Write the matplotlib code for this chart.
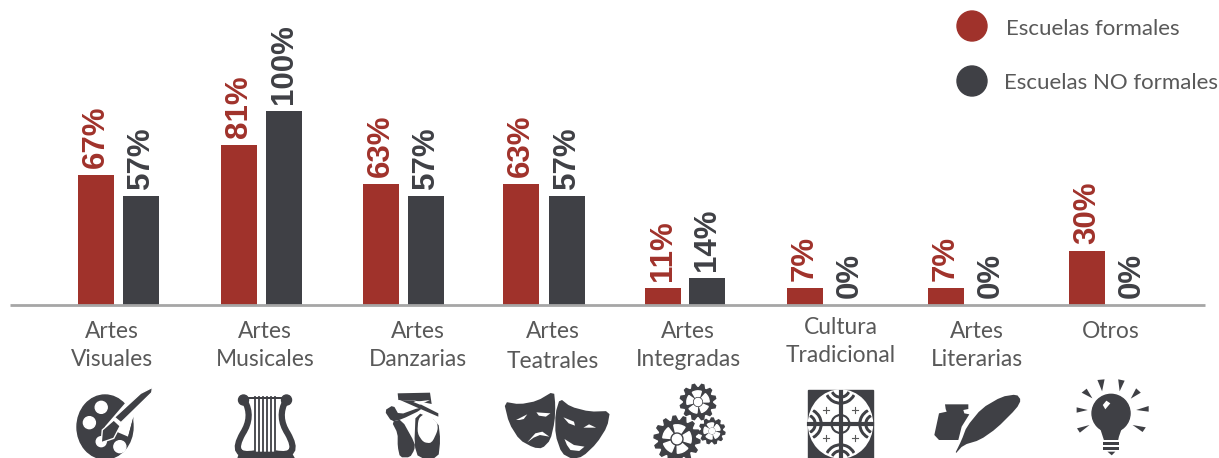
import numpy as np
import matplotlib
matplotlib.use("Agg")
import matplotlib.pyplot as plt
from matplotlib.patches import Polygon, Circle, Ellipse, Wedge, Rectangle, PathPatch
from matplotlib.path import Path

plt.rcParams['font.family'] = ['Lato', 'DejaVu Sans']

# === data ===
categories = ["Artes\nVisuales", "Artes\nMusicales", "Artes\nDanzarias", "Artes\nTeatrales",
              "Artes\nIntegradas", "Cultura\nTradicional", "Artes\nLiterarias", "Otros"]
formales = [67, 82.5, 62.5, 62.5, 9, 9, 9, 28]
no_formales = [56, 100, 56, 56, 14, 0, 0, 0]
formales_labels = ["67%", "81%", "63%", "63%", "11%", "7%", "7%", "30%"]
no_formales_labels = ["57%", "100%", "57%", "57%", "14%", "0%", "0%", "0%"]
legend_names = ["Escuelas formales", "Escuelas NO formales"]

RED = "#A0322B"
DARK = "#3F4045"
GREY = "#595959"

# the groups are not evenly spaced in the original
x_formales = [96, 239, 381, 521, 663, 805, 946, 1087]
x_no = [141, 284, 426, 567, 707, 850, 991, 1132]
label_pos = [(112, 331, 359), (265, 331, 359), (418, 331, 360), (553, 332, 361),
             (688, 331, 360), (841, 328, 356), (977, 332, 360), (1111, 331, None)]

W, H = 1219, 458
BASE = 305
PX_PER_PCT = 1.94

fig = plt.figure(figsize=(W / 100, H / 100), dpi=100)
ax = fig.add_axes([0, 0, 1, 1])
ax.set_xlim(0, W)
ax.set_ylim(-(H - BASE) / PX_PER_PCT, BASE / PX_PER_PCT)
ax.axis("off")

# overlay in pixel coordinates for legend, labels and icons
px = fig.add_axes([0, 0, 1, 1])
px.set_xlim(0, W)
px.set_ylim(H, 0)
px.axis("off")
px.patch.set_alpha(0)

# === bars ===
ax.bar(x_formales, formales, width=36, color=RED)
ax.bar(x_no, no_formales, width=36, color=DARK)
ax.plot([10, 1205], [0, 0], color="#A6A6A6", lw=2, solid_capstyle="butt", zorder=3)

for xs, vals, labs, col in [(x_formales, formales, formales_labels, RED),
                            (x_no, no_formales, no_formales_labels, DARK)]:
    for x, v, lab in zip(xs, vals, labs):
        ax.annotate(lab, (x, v), xytext=(0, 5), textcoords="offset points", rotation=90,
                    ha="center", va="bottom", color=col, fontsize=22.5, fontweight="bold",
                    family="Liberation Sans")

# === category labels ===
for cat, (x, y1, y2) in zip(categories, label_pos):
    parts = cat.split("\n")
    px.text(x, y1, parts[0], ha="center", va="center", color=GREY, fontsize=16.4)
    if y2 is not None:
        px.text(x, y2, parts[1], ha="center", va="center", color=GREY, fontsize=16.4)

# === legend ===
px.add_patch(Circle((972, 26), 15, color=RED))
px.add_patch(Circle((972, 81), 15, color=DARK))
px.text(1006, 29, legend_names[0], va="center", color=GREY, fontsize=16)
px.text(1004, 83, legend_names[1], va="center", color=GREY, fontsize=16)


# === icons ===
def z(points, x0):
    return [(x0 + a / 2.79, 370 + b / 3) for a, b in points]


def c(points, x0, y0, kx=3):
    return [(x0 + a / kx, y0 + b / 3) for a, b in points]


def chaikin(pts, n=2):
    pts = np.array(pts, dtype=float)
    for _ in range(n):
        nxt = np.roll(pts, -1, axis=0)
        pts = np.column_stack([0.8 * pts + 0.2 * nxt, 0.2 * pts + 0.8 * nxt]).reshape(-1, 2)
    return pts


def fill(pts, color=DARK, edge="none", smooth=0):
    if smooth:
        pts = chaikin(pts, smooth)
    px.add_patch(Polygon(pts, closed=True, facecolor=color, edgecolor=edge))


def poly(points, x0, color=DARK, edge="none"):
    fill(z(points, x0), color, edge)


def curve(points, x0, lw, color=DARK):
    pts = z(points, x0)
    codes = [Path.MOVETO] + [Path.CURVE3] * (len(pts) - 1)
    px.add_patch(PathPatch(Path(pts, codes), facecolor="none", edgecolor=color, lw=lw))


def dot(a, b, r, x0, color=DARK):
    (cx, cy), = z([(a, b)], x0)
    px.add_patch(Ellipse((cx, cy), 2 * r, 2 * r, color=color))


def gear(cx, cy, r, teeth, rot=0):
    n = teeth * 4
    ang = np.arange(n) * 2 * np.pi / n + rot
    rad = np.tile([r, r, r * 0.8, r * 0.8], teeth)
    px.add_patch(Polygon(np.c_[cx + rad * np.cos(ang), cy + rad * np.sin(ang)], color=DARK))
    for k in range(5):
        a = k * 72 + np.degrees(rot)
        px.add_patch(Wedge((cx, cy), r * 0.62, a + 12, a + 60, width=r * 0.3, color="white"))
    px.add_patch(Circle((cx, cy), r * 0.2, color="white"))


# palette
px.add_patch(Ellipse((105, 427), 56, 64, color=DARK))
poly([(125, 170), (185, 95), (260, 90), (205, 140), (190, 200)], 60, color="white")
poly([(190, 200), (205, 140), (203, 180), (195, 215)], 60)
for a, b, r in [(115, 112, 6), (82, 158, 6), (167, 230, 6), (115, 215, 5)]:
    dot(a, b, r, 60, color="white")
poly([(258, 52), (256, 68), (170, 158), (152, 142), (225, 70)], 60, edge="white")
poly([(150, 150), (168, 168), (150, 205), (115, 218), (118, 180)], 60, edge="white")

# lyre
dot(512, 90, 5, 60)
dot(632, 90, 5, 60)
poly([(512, 80), (632, 80), (632, 88), (512, 88)], 60)
curve([(515, 92), (540, 140), (510, 190), (470, 265), (545, 250)], 60, 4.5)
curve([(630, 92), (605, 140), (635, 190), (675, 265), (600, 250)], 60, 4.5)
poly([(500, 245), (645, 245), (655, 264), (495, 264)], 60)
for sx in [545, 556, 567, 578, 589, 600]:
    px.plot(*zip(*z([(sx, 80), (sx, 248)], 60)), color=DARK, lw=1.3)

# ballet shoes
fill(c([(122, 95), (190, 125), (196, 180), (190, 234), (130, 234), (118, 195)], 375, 380), smooth=1)
fill(c([(130, 115), (127, 160), (145, 187), (170, 190), (189, 150), (186, 125), (150, 100)], 375, 380),
     color="white", smooth=2)
fill(c([(50, 125), (80, 118), (120, 190), (118, 210), (105, 232), (75, 232), (68, 200), (68, 160)], 375, 380),
     smooth=1)
fill(c([(28, 92), (55, 75), (72, 105), (135, 82), (138, 90), (80, 118), (50, 125)], 375, 380), smooth=1)
fill(c([(68, 40), (165, 38), (170, 72), (120, 62), (70, 60)], 375, 380))
fill(c([(75, 60), (115, 62), (190, 100), (190, 110), (125, 82)], 375, 380))
fill(c([(115, 66), (165, 60), (135, 74)], 375, 380), color="white")

# masks
fill(c([(25, 50), (70, 58), (120, 48), (168, 18), (172, 60), (170, 110), (158, 165),
        (135, 190), (110, 188), (70, 165), (40, 115)], 495, 385, kx=2.85), smooth=1)
fill(c([(185, 40), (215, 65), (270, 80), (328, 78), (320, 125), (290, 175), (250, 215),
        (220, 222), (190, 205), (172, 150), (172, 85)], 495, 385, kx=2.85), smooth=1)
for eye in [[(60, 105), (92, 88), (82, 102), (70, 105)],
            [(118, 82), (158, 85), (145, 95), (125, 92)],
            [(92, 172), (115, 145), (135, 140), (155, 155), (128, 150), (110, 158)],
            [(195, 97), (225, 110), (228, 122), (210, 115)],
            [(252, 128), (268, 118), (288, 128)],
            [(198, 162), (225, 180), (255, 185), (240, 198), (215, 195), (205, 180)]]:
    fill(c(eye, 495, 385, kx=2.85), color="white")

# gears
gear(698, 402, 18, 12, 0.2)
gear(677, 439, 23, 14, 0.5)
gear(712, 431, 13, 11, 0.1)

# cultura tradicional
px.add_patch(Rectangle((808, 390), 65, 68, color=DARK))
px.add_patch(Ellipse((840.5, 424), 64, 68, color="white"))
px.plot([840.5, 840.5], [392, 456], color=DARK, lw=3)
px.plot([809, 872], [424, 424], color=DARK, lw=3)
px.add_patch(Circle((840.5, 424), 9, fill=False, ec=DARK, lw=1.5))
for cx, cy, t1, t2 in [(840.5, 388, 30, 150), (840.5, 460, 210, 330),
                       (806, 424, -60, 60), (875, 424, 120, 240)]:
    for r in (10, 16):
        px.add_patch(Wedge((cx, cy), r, t1, t2, width=1.6, color=DARK))
for cx, cy in [(826, 410), (855, 410), (826, 438), (855, 438)]:
    px.plot([cx - 3, cx + 3], [cy, cy], color=GREY, lw=0.8)
    px.plot([cx, cx], [cy - 3, cy + 3], color=GREY, lw=0.8)

# ink and feather
fill(c([(60, 58), (130, 58), (130, 72), (115, 75), (118, 85), (133, 88), (110, 125), (100, 165),
        (42, 165), (28, 150), (42, 85), (65, 80), (62, 72)], 925, 385))
fill(c([(88, 210), (110, 165), (125, 125), (170, 70), (230, 35), (275, 28), (288, 45),
        (275, 70), (215, 130), (165, 165), (115, 180)], 925, 385), smooth=1)

# light bulb
dot(1370, 130, 19, 620)
poly([(1335, 160), (1405, 160), (1392, 200), (1390, 210), (1350, 210), (1347, 200)], 620)
for yy in [(215, 225), (230, 240)]:
    poly([(1348, yy[0]), (1392, yy[0]), (1392, yy[1]), (1348, yy[1])], 620)
poly([(1360, 245), (1382, 245), (1372, 256)], 620)
poly([(1347, 105), (1357, 92), (1368, 100), (1354, 118)], 620, color="white")
for ray in [[(1332, 30), (1352, 28), (1345, 64)], [(1390, 28), (1408, 32), (1394, 64)],
            [(1288, 68), (1302, 56), (1318, 85)], [(1440, 55), (1453, 68), (1425, 86)],
            [(1274, 112), (1305, 120), (1274, 128)], [(1475, 108), (1475, 125), (1440, 120)],
            [(1275, 175), (1310, 165), (1283, 188)], [(1430, 165), (1467, 172), (1458, 186)]]:
    poly(ray, 620)

plt.savefig("out.png", dpi=100)
